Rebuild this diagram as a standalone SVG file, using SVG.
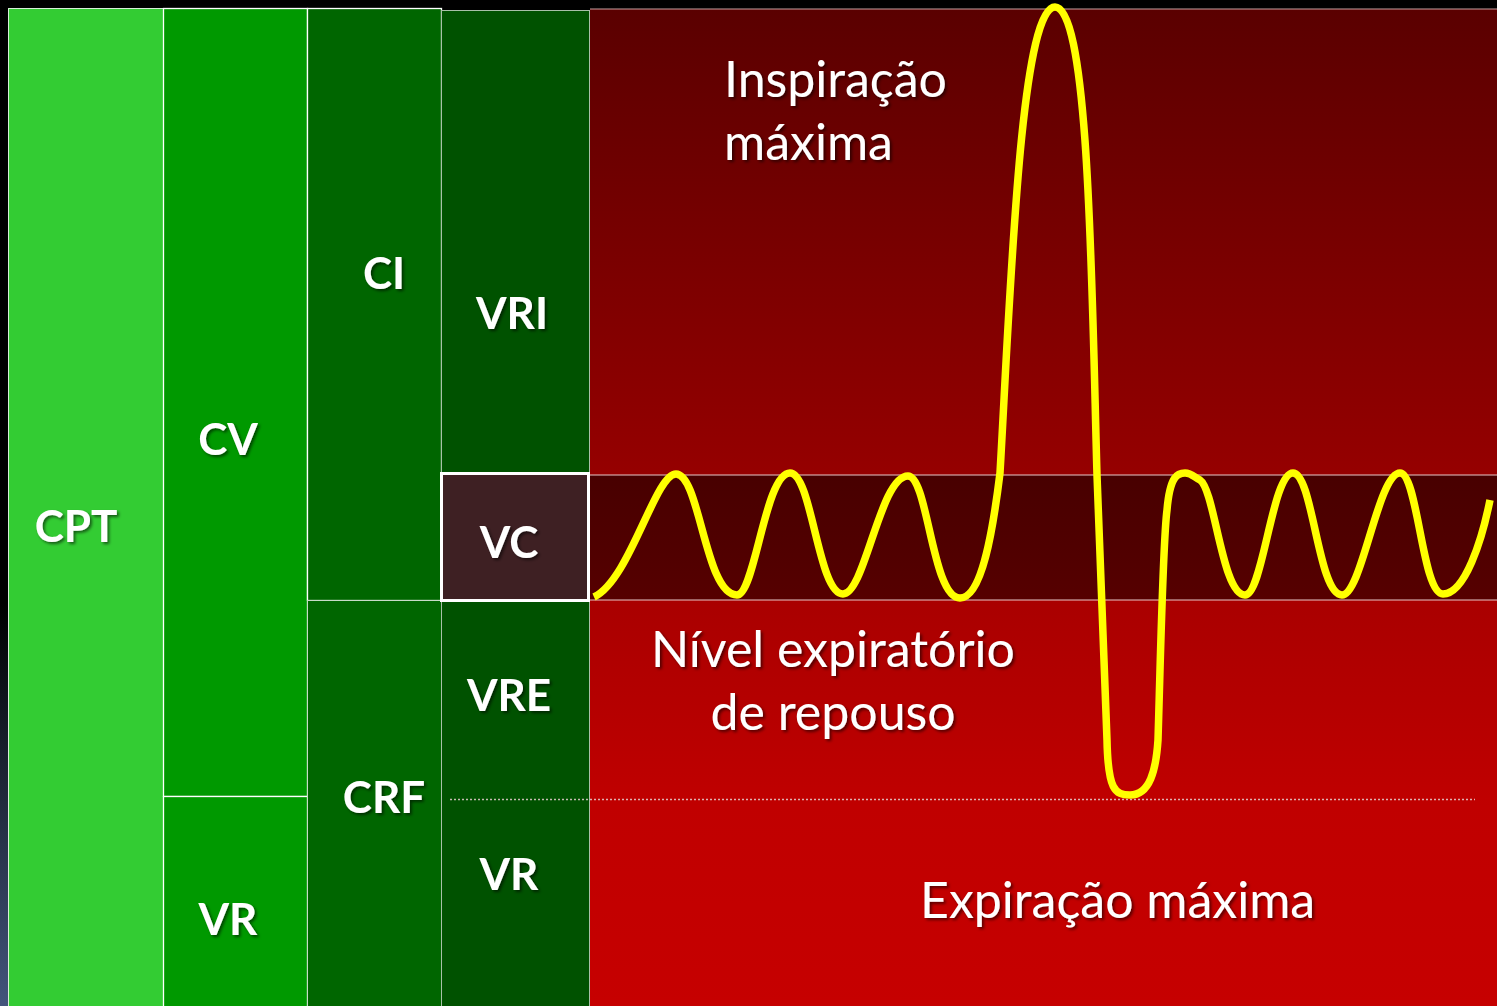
<svg xmlns="http://www.w3.org/2000/svg" width="1497" height="1006" viewBox="0 0 1497 1006">
  <defs>
    <linearGradient id="bg" x1="0" y1="0" x2="0" y2="1">
      <stop offset="0" stop-color="#000"/>
      <stop offset="0.6" stop-color="#000"/>
      <stop offset="1" stop-color="#43557c"/>
    </linearGradient>
    <linearGradient id="red" gradientUnits="userSpaceOnUse" x1="0" y1="9" x2="0" y2="1006">
      <stop offset="0" stop-color="#5a0000"/>
      <stop offset="0.47" stop-color="#960000"/>
      <stop offset="0.6" stop-color="#aa0000"/>
      <stop offset="0.8" stop-color="#c00000"/>
      <stop offset="1" stop-color="#c60000"/>
    </linearGradient>
    <linearGradient id="band" x1="0" y1="0" x2="0" y2="1">
      <stop offset="0" stop-color="#480000"/>
      <stop offset="1" stop-color="#560000"/>
    </linearGradient>
    <filter id="sh" x="-20%" y="-20%" width="140%" height="150%">
      <feDropShadow dx="2" dy="2" stdDeviation="1.5" flood-color="#000" flood-opacity="0.55"/>
    </filter>
  </defs>
  <style>
    .lbl { font-family: Lato, "Liberation Sans", sans-serif; font-weight: bold; font-size: 44px; fill: #fff; text-anchor: middle; filter: url(#sh); }
    .big { font-family: Lato, "Liberation Sans", sans-serif; font-size: 50px; fill: #fff; filter: url(#sh); }
    .sep { stroke: #fff; stroke-width: 1.3; }
    .thin { stroke: #e8c8c8; stroke-width: 1.2; fill: none; }
  </style>

  <rect x="0" y="0" width="1497" height="1006" fill="url(#bg)"/>

  <g id="red-area">
    <rect x="590" y="9" width="907" height="997" fill="url(#red)"/>
    <rect x="590" y="475" width="907" height="125" fill="url(#band)"/>
    <line class="thin" x1="590" y1="475" x2="1497" y2="475"/>
    <line class="thin" x1="590" y1="600" x2="1497" y2="600"/>
    <line x1="590" y1="9" x2="1497" y2="9" stroke="#c8a0a0" stroke-width="1"/>
  </g>

  <g id="cpt">
    <rect x="8.5" y="8.5" width="155" height="1000" fill="#33cc33" stroke="#d8f0d8" stroke-width="1"/>
    <text class="lbl" x="76" y="542">CPT</text>
  </g>
  <g id="cv">
    <rect x="163.5" y="8.5" width="144" height="788" fill="#009900" class="sep"/>
    <text class="lbl" x="228" y="455">CV</text>
  </g>
  <g id="vr-left">
    <rect x="163.5" y="796.5" width="144" height="215" fill="#009900" class="sep"/>
    <text class="lbl" x="228" y="935">VR</text>
  </g>
  <g id="ci">
    <rect x="307.5" y="8.5" width="134" height="592" fill="#006600" class="sep"/>
    <text class="lbl" x="384" y="289">CI</text>
  </g>
  <g id="crf">
    <rect x="307.5" y="600.5" width="134" height="410" fill="#006600" stroke="#c8dcc8" stroke-width="1"/>
    <text class="lbl" x="384" y="813">CRF</text>
  </g>
  <g id="vri">
    <rect x="441.5" y="10.5" width="148" height="1000" fill="#005200" stroke="#a8c0a8" stroke-width="1"/>
    <text class="lbl" x="512" y="329">VRI</text>
  </g>
  <g id="vc">
    <rect x="441.5" y="473.5" width="147" height="127" fill="#3e2023" stroke="#fff" stroke-width="3"/>
    <text class="lbl" x="509" y="558">VC</text>
  </g>
  <g id="vre">
    <text class="lbl" x="509" y="711">VRE</text>
  </g>
  <g id="vr-right">
    <text class="lbl" x="509" y="890">VR</text>
  </g>

  <g id="connectors">
    <line x1="450" y1="799.5" x2="1475" y2="799.5" stroke="#e8d0d0" stroke-width="1.5" stroke-dasharray="2 2" opacity="0.85"/>
  </g>

  <g id="curve">
    <path fill="none" stroke="#ffff00" stroke-width="7.5" stroke-linecap="butt" stroke-linejoin="round"
      d="M594,597 C630,580 655,474 676,474
         C700,474 705,595 737,595
         C755,595 765,473 790,473
         C812,473 818,594 843,594
         C865,594 880,476 908,476
         C928,476 932,598 960,598
         C982,598 993,530 1000,473
         C1010,300 1020,7 1055,7
         C1090,7 1092,300 1097,475
         L1107,740
         C1108,790 1115,795 1130,795
         C1150,795 1156,770 1158,740
         C1161,640 1163,540 1167,510
         C1170,475 1178,473 1185,473
         C1192,473 1195,478 1200,480
         C1215,490 1222,595 1245,595
         C1263,595 1272,473 1293,473
         C1313,473 1318,595 1342,595
         C1362,595 1378,473 1400,473
         C1418,473 1422,594 1443,594
         C1465,594 1482,540 1490,500"/>
  </g>

  <g id="label-inspiracao">
    <text class="big" x="724" y="97">Inspiração</text>
    <text class="big" x="724" y="160">máxima</text>
  </g>
  <g id="label-nivel">
    <text class="big" x="833" y="667" text-anchor="middle">Nível expiratório</text>
    <text class="big" x="833" y="730" text-anchor="middle">de repouso</text>
  </g>
  <g id="label-expiracao">
    <text class="big" x="920" y="918">Expiração máxima</text>
  </g>
</svg>
